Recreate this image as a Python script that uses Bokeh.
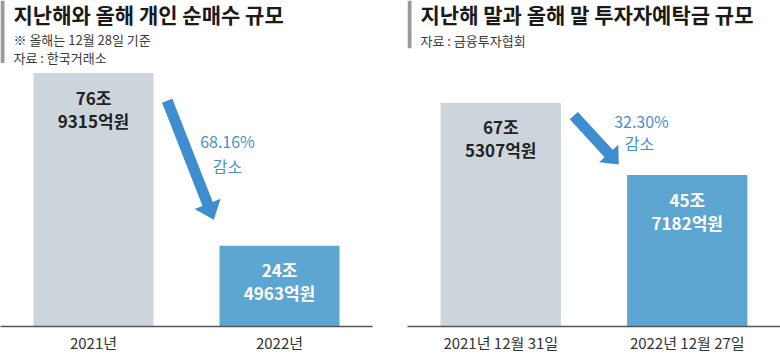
import math
from bokeh.plotting import figure
from bokeh.layouts import row
from bokeh.models import Range1d, ColumnDataSource, LabelSet, FixedTicker
from bokeh.core.properties import value
from bokeh.embed import file_html
from bokeh.resources import INLINE

FONT = "Noto Sans CJK KR"

# ---- left panel data ----
left_title = "지난해와 올해 개인 순매수 규모"
left_notes = ["※ 올해는 12월 28일 기준", "자료 : 한국거래소"]
left_cats = ["2021년", "2022년"]
left_vals = [76.9315, 24.4963]          # 조원
left_lab1 = ["76조", "24조"]
left_lab2 = ["9315억원", "4963억원"]
left_change = ["68.16%", "감소"]

# ---- right panel data ----
right_title = "지난해 말과 올해 말 투자자예탁금 규모"
right_notes = ["자료 : 금융투자협회"]
right_cats = ["2021년 12월 31일", "2022년 12월 27일"]
right_vals = [67.5307, 45.7182]         # 조원
right_lab1 = ["67조", "45조"]
right_lab2 = ["5307억원", "7182억원"]
right_change = ["32.30%", "감소"]

GRAY = "#cdd5dc"
BLUE = "#5ea6d2"
ARROW = "#3d8dcf"
PCT = "#4a8fc9"
H = 355
FH = 328


def arrow_poly(x0, y0, x1, y1, sw, hw, hl):
    dx, dy = x1 - x0, y1 - y0
    L = math.hypot(dx, dy)
    ux, uy = dx / L, dy / L
    nx, ny = -uy, ux
    bx, by = x1 - ux * hl, y1 - uy * hl
    pts = [
        (x0 + nx * sw / 2, y0 + ny * sw / 2),
        (bx + nx * sw / 2, by + ny * sw / 2),
        (bx + nx * hw / 2, by + ny * hw / 2),
        (x1, y1),
        (bx - nx * hw / 2, by - ny * hw / 2),
        (bx - nx * sw / 2, by - ny * sw / 2),
        (x0 - nx * sw / 2, y0 - ny * sw / 2),
    ]
    return [p[0] for p in pts], [p[1] for p in pts]


def panel(width, ml, mr, cats, vals, ymax, lab1, lab2, title, notes, note_y,
          accent_h, arrow, change, change_pos):
    fw = width - ml - mr
    n = len(cats)
    xpos = [i + 0.5 for i in range(n)]
    p = figure(width=width, height=H, x_range=Range1d(0, n),
               y_range=Range1d(0, ymax), output_backend="svg",
               toolbar_location=None, title=None, y_axis_location=None,
               min_border_left=ml, min_border_right=mr, min_border_top=0,
               min_border_bottom=H - FH)
    p.extra_x_ranges = {"px": Range1d(0, fw)}
    p.extra_y_ranges = {"px": Range1d(FH, 0)}
    p.outline_line_color = None
    p.xgrid.visible = False
    p.ygrid.visible = False
    p.background_fill_color = "white"
    p.border_fill_color = "white"
    p.min_border = 0
    p.min_border_left = ml
    p.min_border_right = mr
    p.min_border_top = 0
    p.min_border_bottom = H - FH

    src = ColumnDataSource(dict(x=xpos, y=vals, l1=lab1, l2=lab2,
                                c=[GRAY, BLUE], tc=["#222222", "#ffffff"]))
    p.vbar(x="x", top="y", width=0.645, fill_color="c", line_color=None, source=src)

    for col, off in (("l1", -24), ("l2", -47)):
        p.add_layout(LabelSet(x="x", y="y", text=col, source=src, y_offset=off,
                              text_align="center", text_baseline="middle",
                              text_font=value(FONT), text_font_size="17px",
                              text_font_style="bold", text_color="tc"))

    ax = p.xaxis[0]
    ax.ticker = FixedTicker(ticks=xpos)
    ax.major_label_overrides = {x: c for x, c in zip(xpos, cats)}
    ax.axis_line_color = "#555555"
    ax.axis_line_width = 1.5
    ax.major_tick_line_color = None
    ax.minor_tick_line_color = None
    ax.major_tick_out = 0
    ax.major_tick_in = 0
    ax.minor_tick_out = 0
    ax.minor_tick_in = 0
    ax.major_label_standoff = 5
    ax.major_label_text_font = FONT
    ax.major_label_text_font_size = "15px"
    ax.major_label_text_color = "#333333"

    # accent bar
    p.quad(left=[0], right=[4], top=[0], bottom=[accent_h], fill_color="#9a9a9a",
           line_color=None, x_range_name="px", y_range_name="px")
    # title & notes
    p.text(x=[13], y=[13.5], text=[title], x_range_name="px", y_range_name="px",
           text_font=value(FONT), text_font_size="21px", text_font_style="bold",
           text_baseline="middle", text_align="left", text_color="#1a1a1a")
    p.text(x=[13] * len(notes), y=note_y, text=notes, x_range_name="px",
           y_range_name="px", text_font=value(FONT), text_font_size="13px",
           text_baseline="middle", text_align="left", text_color="#3a3a3a")

    xs, ys = arrow_poly(*arrow)
    p.patch(xs, ys, fill_color=ARROW, line_color=None, x_range_name="px",
            y_range_name="px")
    p.text(x=[c[0] for c in change_pos], y=[c[1] for c in change_pos], text=change,
           x_range_name="px", y_range_name="px", text_font=value(FONT),
           text_font_size="16px", text_baseline="middle", text_align="center",
           text_color=PCT)
    return p


p1 = panel(390, 0, 18, left_cats, left_vals, 98.95, left_lab1, left_lab2,
           left_title, left_notes, [39, 57], 63,
           (166.7, 100.8, 213.3, 220.5, 11, 28, 17),
           left_change, [(227, 141.5), (227, 166.5)])
p2 = panel(390, 17, 0, right_cats, right_vals, 98.45, right_lab1, right_lab2,
           right_title, right_notes, [40], 48,
           (166.3, 115.8, 211.3, 165.0, 11, 26, 15),
           right_change, [(234, 121), (232, 143)])

layout = row(p1, p2)
open("out.html", "w").write(file_html(layout, INLINE))
